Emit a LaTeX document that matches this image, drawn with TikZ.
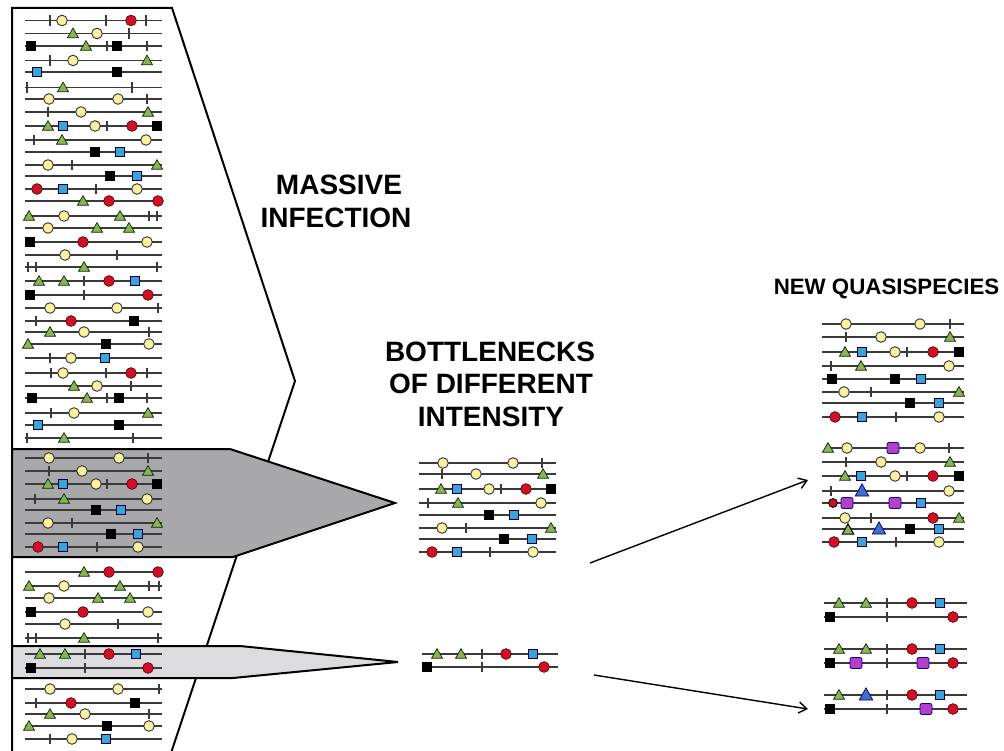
\documentclass[tikz,border=0pt]{standalone}
\usepackage{fontspec}
\setsansfont{Liberation Sans}
\usetikzlibrary{arrows.meta}

\definecolor{seqgray}{HTML}{3A3A3A}
\definecolor{dotyellow}{HTML}{FAF0A2}
\definecolor{dotred}{HTML}{CE1126}
\definecolor{trigreen}{HTML}{8DB254}
\definecolor{sqcyan}{HTML}{3BA3D6}
\definecolor{sqmagenta}{HTML}{B540C8}
\definecolor{triblue}{HTML}{3F6FCC}
\definecolor{funneldark}{HTML}{A8A8AA}
\definecolor{funnellight}{HTML}{DCDCDE}

\tikzset{
  seqline/.style={draw=seqgray, line width=1.4pt},
  tickline/.style={draw=seqgray, line width=1.25pt},
  yellowdot/.style={fill=dotyellow, draw=black!80, line width=0.9pt},
  reddot/.style={fill=dotred, draw=black!70!red, line width=0.6pt},
  greentri/.style={fill=trigreen, draw=black!60!green!40!black, line width=0.7pt, line join=miter},
  cyansq/.style={fill=sqcyan, draw=black!75!blue, line width=0.7pt},
  blacksq/.style={fill=black},
  magsq/.style={fill=sqmagenta, draw=blue!60!black, line width=0.8pt, rounded corners=2pt},
  bluetri/.style={fill=triblue, draw=blue!40!black, line width=0.7pt},
  outline/.style={draw=black, line width=2pt, line join=miter},
  arrowline/.style={draw=black, line width=1.4pt, -{Straight Barb[length=8pt,width=11pt,line width=1.4pt]}},
  heading/.style={font=\sffamily\bfseries\fontsize{28}{34}\selectfont, anchor=base, inner sep=0pt},
  subheading/.style={font=\sffamily\bfseries\fontsize{22.3}{26}\selectfont, anchor=base, inner sep=0pt}
}

% glyphs placed on a genome line: #1 = x, #2 = y
\newcommand\glyphc[2]{\filldraw[yellowdot] (#1,#2) circle[radius=5.3pt];}
\newcommand\glyphr[2]{\filldraw[reddot] (#1,#2) circle[radius=5.4pt];}
\newcommand\glyphs[2]{\filldraw[reddot, draw=black, line width=0.9pt] (#1,#2) circle[radius=4.4pt];}
\newcommand\glypht[2]{\filldraw[greentri] ({#1-5.5},{#2+4.2}) -- ({#1+5.5},{#2+4.2}) -- (#1,{#2-5.4}) -- cycle;}
\newcommand\glyphg[2]{\filldraw[greentri, draw=black, line width=1pt] ({#1-5.7},{#2+5}) -- ({#1+5.7},{#2+5}) -- (#1,{#2-5.2}) -- cycle;}
\newcommand\glyphv[2]{\filldraw[bluetri] ({#1-6.7},{#2+5}) -- ({#1+6.7},{#2+5}) -- (#1,{#2-7.2}) -- cycle;}
\newcommand\glyphq[2]{\filldraw[cyansq] ({#1-4.2},{#2-4.2}) rectangle ({#1+4.2},{#2+4.2});}
\newcommand\glyphb[2]{\fill[blacksq] ({#1-4.8},{#2-4.8}) rectangle ({#1+4.8},{#2+4.8});}
\newcommand\glyphm[2]{\filldraw[magsq] ({#1-6},{#2-5.5}) rectangle ({#1+6},{#2+5.5});}
\newcommand\glyphk[2]{\draw[tickline] (#1,{#2-5.2}) -- (#1,{#2+5.2});}

% one genome: #1 = y, #2 = left end, #3 = right end, #4 = list of kind/x
\newcommand\seqrow[4]{%
  \draw[seqline] (#2,#1) -- (#3,#1);
  \foreach \gk/\gx in {#4} {\csname glyph\gk\endcsname{\gx}{#1}}%
}
\newcommand\leftrow[2]{\seqrow{#1}{25}{162}{#2}}

\begin{document}
\begin{tikzpicture}[x=1pt, y=-1pt]
\path[use as bounding box] (0,0) rectangle (1004,751);

% large population funnel
\draw[outline] (12,753) -- (12,8) -- (172,8) -- (295,381) -- (171,753);

% bottleneck funnels
\filldraw[outline, fill=funneldark] (12,449) -- (230,449) -- (395,503) -- (233,557) -- (12,557) -- cycle;
\filldraw[outline, fill=funnellight] (12,646) -- (240,646) -- (398,662) -- (233,678) -- (12,678) -- cycle;

% original viral population
\leftrow{20.5}{k/50, c/62, k/106, r/131, k/146}
\leftrow{33.5}{t/73, c/97, k/129}
\leftrow{46}{b/31, t/86, k/107, b/117, k/147}
\leftrow{60.5}{k/50, c/73, t/147}
\leftrow{72}{q/37, b/117}
\leftrow{87.5}{k/27, t/63, k/132}
\leftrow{99}{c/49, c/118, k/147}
\leftrow{112}{k/48, c/81, t/148}
\leftrow{126}{t/48, q/63, c/95, k/107, r/132, b/157}
\leftrow{140}{k/34, t/62, c/146}
\leftrow{152}{b/95, q/120}
\leftrow{165}{c/48, k/72, t/157}
\leftrow{176}{b/110, q/137}
\leftrow{189}{r/37, q/63, k/96, c/137}
\leftrow{201}{t/83, r/109, r/158}
\leftrow{216}{t/29, c/64, t/120, k/149, k/157}
\leftrow{228}{c/48, t/97, t/129}
\leftrow{242}{b/30, r/83, c/147}
\leftrow{255}{c/65, k/117}
\leftrow{267}{k/28, k/36, t/84, k/157}
\leftrow{281}{t/39, t/64, k/84, r/109, q/135}
\leftrow{295}{b/30, k/84, r/148}
\leftrow{308}{c/50, c/117, k/158}
\leftrow{321}{k/36, r/71, b/134}
\leftrow{332}{t/50, c/84, k/149}
\leftrow{344}{t/28, b/106, c/149}
\leftrow{358}{k/50, c/71, q/105}
\leftrow{373}{k/51, c/63, k/106, r/131, k/147}
\leftrow{386}{t/74, c/97, k/131}
\leftrow{398}{b/32, t/87, k/107, b/119, k/147}
\leftrow{413}{k/51, c/74, t/148}
\leftrow{425}{q/38, b/119}
\leftrow{438}{k/27, t/64, k/133}
% rows inside the wide bottleneck
\leftrow{458}{c/49, c/119, k/148}
\leftrow{471}{k/49, c/82, t/148}
\leftrow{484}{t/48, q/63, c/96, k/107, r/132, b/157}
\leftrow{499}{k/35, t/64, c/147}
\leftrow{510}{b/96, q/121}
\leftrow{523}{c/48, k/72, t/157}
\leftrow{534}{b/111, q/138}
\leftrow{547}{r/38, q/63, k/97, c/138}
% rows below
\leftrow{572}{t/84, r/109, r/158}
\leftrow{586}{t/29, c/64, t/120, k/149, k/159}
\leftrow{598}{c/49, t/98, t/130}
\leftrow{612}{b/31, r/83, c/148}
\leftrow{624}{c/65, k/118}
\leftrow{638}{k/28, k/36, t/84, k/158}
% rows inside the narrow bottleneck
\leftrow{654}{t/40, t/65, k/85, r/109, q/136}
\leftrow{668}{b/31, k/85, r/148}
\leftrow{689}{c/50, c/118, k/159}
\leftrow{703}{k/36, r/71, b/135}
\leftrow{714}{t/50, c/85, k/149}
\leftrow{726}{t/29, b/107, c/149}
\leftrow{739}{k/50, c/72, q/106}

% genomes passing the wide bottleneck
\seqrow{463}{419}{556}{c/443, c/513, k/542}
\seqrow{474}{419}{556}{k/442, c/476, t/543}
\seqrow{489}{419}{556}{t/441, q/457, c/489, k/501, r/526, b/551}
\seqrow{503}{419}{556}{k/428, t/458, c/541}
\seqrow{515}{419}{556}{b/489, q/514}
\seqrow{528}{419}{556}{c/442, k/466, t/551}
\seqrow{539}{419}{556}{b/504, q/532}
\seqrow{552}{419}{556}{r/432, q/457, k/490, c/533}

% genomes passing the narrow bottleneck
\seqrow{654}{422}{558}{t/437, t/461, k/482, r/506, q/533}
\seqrow{667}{422}{558}{b/427, k/482, r/544}

% new quasispecies, first set
\seqrow{324}{822}{964}{c/846, c/920, k/950}
\seqrow{337}{822}{964}{k/846, c/881, t/950}
\seqrow{352}{822}{964}{t/845, q/862, c/895, k/907, r/933, b/959}
\seqrow{366}{822}{964}{k/831, t/861, c/949}
\seqrow{379}{822}{964}{b/832, b/895, q/921}
\seqrow{392}{822}{964}{c/844, k/871, t/959}
\seqrow{403}{822}{964}{b/910, q/939}
\seqrow{417}{822}{964}{r/835, q/862, k/896, c/939}

% new quasispecies, second set
\seqrow{448}{826}{964}{t/828, c/847, m/893, c/920, k/949}
\seqrow{462}{822}{964}{k/846, c/881, t/950}
\seqrow{476}{822}{964}{t/845, q/861, c/895, k/907, r/933, b/959}
\seqrow{491}{822}{964}{k/831, v/862, c/949}
\seqrow{503}{822}{964}{s/833, m/847, m/895, q/921}
\seqrow{518}{822}{964}{c/845, k/871, r/933, t/959}
\seqrow{529}{822}{964}{g/848, v/879, b/910, q/939}
\seqrow{542}{822}{964}{r/834, q/862, k/896, c/939}

% new quasispecies, third set
\seqrow{603}{824}{967}{t/839, t/866, k/887, r/912, q/940}
\seqrow{617}{824}{967}{b/830, k/887, r/953}
\seqrow{649}{824}{967}{t/839, t/866, k/887, r/912, q/940}
\seqrow{663}{824}{967}{b/830, m/856, k/887, m/923, r/953}
\seqrow{695}{824}{967}{t/839, v/866, k/887, r/912, q/940}
\seqrow{709}{824}{967}{b/830, k/887, m/926, r/953}

% arrows to the new quasispecies
\coordinate (wideout) at (590,563);
\coordinate (widein) at (808,480);
\coordinate (narrowout) at (594,675);
\coordinate (narrowin) at (808,709);
\draw[arrowline] (wideout) -- (widein);
\draw[arrowline] (narrowout) -- (narrowin);

% labels
\node[heading] (massive) at (339,195) {MASSIVE};
\node[heading] (infection) at (336,228) {INFECTION};
\node[heading] (bottlenecks) at (490,361) {BOTTLENECKS};
\node[heading] (ofdifferent) at (491,393) {OF DIFFERENT};
\node[heading] (intensity) at (491,426) {INTENSITY};
\node[subheading] (newqs) at (886.5,295) {NEW QUASISPECIES};
\end{tikzpicture}
\end{document}
